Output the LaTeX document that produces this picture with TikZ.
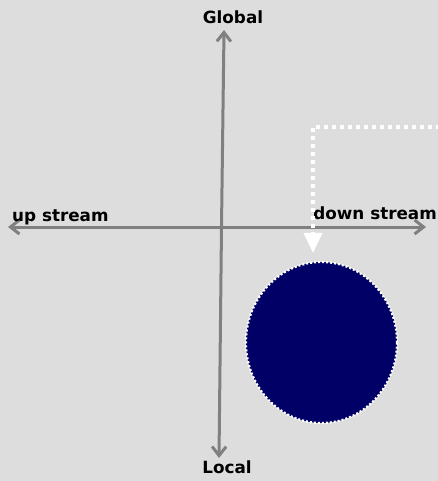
\documentclass[tikz,border=0pt]{standalone}
\usepackage{fontspec}
\newfontfamily\lblfont{DejaVu Sans}
\usetikzlibrary{arrows.meta,shapes.geometric}
\definecolor{bg}{HTML}{DDDDDD}
\definecolor{axisgray}{HTML}{808080}
\definecolor{navy}{HTML}{000066}
\tikzset{
  axis/.style={draw=axisgray, line width=3pt, -{Straight Barb[length=9pt,width=14pt]}},
  lbl/.style={font=\lblfont\bfseries\fontsize{16.8}{19}\selectfont, text=black, inner sep=0pt},
  flow/.style={draw=white, line width=4pt, dash pattern=on 4pt off 4pt, -{Triangle[length=20pt,width=18pt]}},
  blob/.style={ellipse, fill=navy, draw=white, line width=2.2pt, dash pattern=on 2pt off 2pt, minimum width=151pt, minimum height=161pt, inner sep=0pt}
}
\begin{document}
\begin{tikzpicture}[x=1pt,y=-1pt]
\fill[bg] (0,0) rectangle (438,481);
\useasboundingbox (0,0) rectangle (438,481);
\coordinate (vtop) at (224,30);
\coordinate (vbot) at (219,458);
\coordinate (vmid) at (221.5,227);
\coordinate (hleft) at (8,227);
\coordinate (hright) at (426,227);
\draw[axis] (vmid) -- (vtop);
\draw[axis] (vmid) -- (vbot);
\draw[axis] (vmid) -- (hleft);
\draw[axis] (vmid) -- (hright);
\node[lbl] (global) at (233,17) {Global};
\node[lbl] (local) at (227,467) {Local};
\node[lbl, anchor=base west] (up) at (12,221) {up stream};
\node[lbl, anchor=base east] (down) at (437,219) {down stream};
\node[blob] (ball) at (321.5,342.5) {};
\coordinate (src) at (440,127);
\draw[flow, shorten >=8pt] (src) -| (ball.north -| 313,0);
\end{tikzpicture}
\end{document}
